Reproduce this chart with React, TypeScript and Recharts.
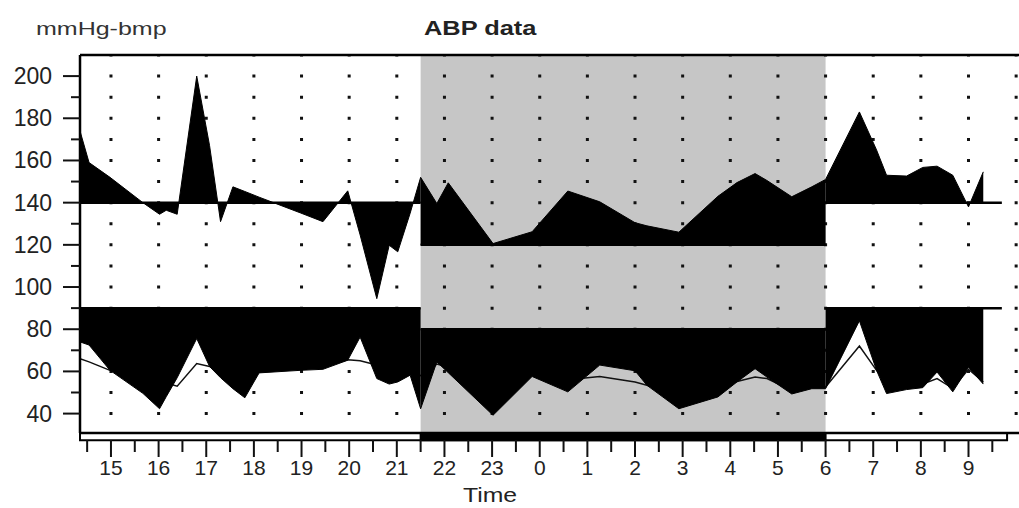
import { ComposedChart, Area, Line, XAxis, YAxis, CartesianGrid, ReferenceArea, ReferenceLine } from 'recharts';

// time of each reading in hours (24+ = next morning)
const times = [
  14.35, 14.54, 14.98, 15.67, 16.02, 16.16, 16.39, 16.8, 17.07, 17.3, 17.56, 17.81, 18.11, 18.97, 19.45,
  19.97, 20.23, 20.58, 20.84, 21.02, 21.28, 21.5,
  21.84, 22.08, 23.02, 23.84, 24.59, 25.26, 26.0, 26.25, 26.92, 27.74, 28.14, 28.52, 28.77, 29.29, 29.71, 30.0,
  30.71, 31.07, 31.28, 31.7, 32.04, 32.34, 32.67, 33.0, 33.31,
];
const systolic = [
  174, 159, 152, 140, 134.5, 136.4, 134.5, 200, 167, 131, 147.5, 145.3, 142.6, 135.2, 131,
  145.6, 124.7, 94.5, 119.8, 116.7, 135, 152,
  139.6, 149.4, 120.6, 126.2, 145.5, 140.4, 130.5, 129, 126, 143, 149.5, 153.8, 150.5, 142.8, 147.5, 151,
  183, 165, 153, 152.6, 156.7, 157.3, 153, 138, 154.6,
];
const diastolic = [
  74, 72.5, 60.5, 49.6, 42.3, 48, 57, 75.6, 62.3, 57, 51.8, 47.5, 59.3, 60.5, 61,
  65.3, 76.3, 56.6, 54, 55, 58.2, 42.3,
  64.5, 59.4, 39.2, 57.6, 50.3, 63, 60.3, 53.4, 42.3, 47.9, 55, 61.3, 57.3, 49.3, 51.8, 51.8,
  84, 60.5, 49.5, 51.4, 52.3, 59.7, 50.3, 62, 54,
];
const heartRate = [
  66, 64.5, 60.5, 57, 55.5, 54.5, 53, 63.7, 62.3, 61, 60, 60.5, 61, 62, 62.5,
  65.5, 65, 63, 60, 59, 60, 58,
  63.5, 62, 57.5, 58.5, 56, 57.6, 55, 53.4, 50, 52, 55.2, 57.3, 56.6, 51, 52.5, 52.6,
  72, 60.5, 55, 53, 54, 56.6, 52, 61, 55,
];

const gridHours = [15, 16, 17, 18, 19, 20, 21, 22, 23, 24, 25, 26, 27, 28, 29, 30, 31, 32, 33, 34];
const xTicks = [
  14.5, 15, 15.5, 16, 16.5, 17, 17.5, 18, 18.5, 19, 19.5, 20, 20.5, 21, 21.5, 22, 22.5, 23, 23.5, 24, 24.5,
  25, 25.5, 26, 26.5, 27, 27.5, 28, 28.5, 29, 29.5, 30, 30.5, 31, 31.5, 32, 32.5, 33, 33.5,
];
const yTicks = [40, 50, 60, 70, 80, 90, 100, 110, 120, 130, 140, 150, 160, 170, 180, 190, 200];

const SYS_DAY = 140;
const SYS_NIGHT = 120;
const DIA_DAY = 90;
const DIA_NIGHT = 80;
const NIGHT_START = 21.5;
const NIGHT_END = 30;
const X_MIN = 14.35;
const X_MAX = 34.06;
const Y_MIN = 30.8;
const Y_MAX = 210;
const LIMIT_END = 33.7;
const BAR_END = 33.81;
const BAR_LOW = 27.34;

const W = 1019;
const H = 508;
const TOP = 55;
const X_AXIS_H = 75;
const PLOT_H = H - TOP - X_AXIS_H;
const DOT_STEP = (10 * PLOT_H) / (Y_MAX - Y_MIN);
const FONT = '"Liberation Sans", Arial, Helvetica, sans-serif';

const rows = times.map((t, i) => ({ t, sys: systolic[i], dia: diastolic[i], hr: heartRate[i] }));

const inDay1 = (t: number) => t <= NIGHT_START;
const inNight = (t: number) => t >= NIGHT_START && t <= NIGHT_END;
const inDay2 = (t: number) => t >= NIGHT_END;

function YTick({ x, y, payload }: any) {
  const v = payload.value;
  const major = v % 20 === 0;
  return (
    <g>
      <line x1={x - (major ? 17 : 9)} x2={x} y1={y} y2={y} stroke="#111" strokeWidth={2} />
      {major && (
        <text x={x - 28} y={y + 8} textAnchor="end" fontSize={23} fill="#222" fontFamily={FONT}>
          {v}
        </text>
      )}
    </g>
  );
}

function XTick({ x, y, payload }: any) {
  const v = payload.value;
  const major = Number.isInteger(v);
  return (
    <g>
      <line x1={x} x2={x} y1={y + 7} y2={y + (major ? 24 : 19)} stroke="#111" strokeWidth={2} />
      {major && (
        <text x={x} y={y + 42} textAnchor="middle" fontSize={21} fill="#222" fontFamily={FONT}>
          {v % 24}
        </text>
      )}
    </g>
  );
}

const fillProps = {
  type: 'linear' as const,
  stroke: '#000',
  strokeWidth: 1,
  fill: '#000',
  fillOpacity: 1,
  dot: false,
  activeDot: false,
  isAnimationActive: false,
  zIndex: 100,
};

const limitProps = { stroke: '#000', strokeWidth: 2.5, zIndex: 450 };

export default function App() {
  return (
    <div style={{ position: 'absolute', left: 0, top: 0, width: W, height: H, background: '#fff' }}>
      <ComposedChart width={W} height={H} data={rows} margin={{ top: TOP, right: 0, bottom: 0, left: 0 }}>
        <ReferenceArea x1={NIGHT_START} x2={NIGHT_END} y1={Y_MIN} y2={Y_MAX} fill="#c6c6c6" fillOpacity={1} stroke="none" zIndex={-200} />
        <CartesianGrid
          horizontal={false}
          verticalValues={gridHours}
          stroke="#111"
          strokeWidth={3}
          strokeDasharray={`1.5 ${DOT_STEP - 3} 1.5 0`}
          zIndex={-100}
        />
        <XAxis
          dataKey="t"
          type="number"
          domain={[X_MIN, X_MAX]}
          allowDataOverflow
          ticks={xTicks}
          interval={0}
          height={X_AXIS_H}
          tickSize={0}
          tickMargin={0}
          tickLine={false}
          tick={<XTick />}
          axisLine={{ stroke: '#000', strokeWidth: 2.5 }}
        />
        <YAxis
          type="number"
          domain={[Y_MIN, Y_MAX]}
          allowDataOverflow
          ticks={yTicks}
          interval={0}
          width={80}
          tickSize={0}
          tickMargin={0}
          tickLine={false}
          tick={<YTick />}
          axisLine={{ stroke: '#000', strokeWidth: 2.5 }}
        />

        {/* heart rate sits under the black bands, so it only shows outside them */}
        <Line
          type="linear"
          dataKey="hr"
          stroke="#111"
          strokeWidth={1.5}
          dot={false}
          activeDot={false}
          isAnimationActive={false}
          zIndex={50}
        />

        <Area {...fillProps} name="sys-day1" dataKey={(d: any) => (inDay1(d.t) ? [SYS_DAY, d.sys] : null)} />
        <Area {...fillProps} name="sys-night" dataKey={(d: any) => (inNight(d.t) ? [SYS_NIGHT, d.sys] : null)} />
        <Area {...fillProps} name="sys-day2" dataKey={(d: any) => (inDay2(d.t) ? [SYS_DAY, d.sys] : null)} />
        <Area {...fillProps} name="dia-day1" dataKey={(d: any) => (inDay1(d.t) ? [DIA_DAY, d.dia] : null)} />
        <Area {...fillProps} name="dia-night" dataKey={(d: any) => (inNight(d.t) ? [DIA_NIGHT, d.dia] : null)} />
        <Area {...fillProps} name="dia-day2" dataKey={(d: any) => (inDay2(d.t) ? [DIA_DAY, d.dia] : null)} />

        <ReferenceLine {...limitProps} segment={[{ x: X_MIN, y: SYS_DAY }, { x: NIGHT_START, y: SYS_DAY }]} />
        <ReferenceLine {...limitProps} segment={[{ x: NIGHT_START, y: SYS_NIGHT }, { x: NIGHT_END, y: SYS_NIGHT }]} />
        <ReferenceLine {...limitProps} segment={[{ x: NIGHT_END, y: SYS_DAY }, { x: LIMIT_END, y: SYS_DAY }]} />
        <ReferenceLine {...limitProps} segment={[{ x: X_MIN, y: DIA_DAY }, { x: NIGHT_START, y: DIA_DAY }]} />
        <ReferenceLine {...limitProps} segment={[{ x: NIGHT_START, y: DIA_NIGHT }, { x: NIGHT_END, y: DIA_NIGHT }]} />
        <ReferenceLine {...limitProps} segment={[{ x: NIGHT_END, y: DIA_DAY }, { x: LIMIT_END, y: DIA_DAY }]} />
        <ReferenceLine y={Y_MAX} stroke="#000" strokeWidth={2.5} zIndex={450} />

        <ReferenceArea x1={X_MIN} x2={BAR_END} y1={BAR_LOW} y2={Y_MIN} ifOverflow="visible" fill="#fff" fillOpacity={1} stroke="#000" strokeWidth={2} zIndex={460} />
        <ReferenceArea x1={NIGHT_START} x2={NIGHT_END} y1={BAR_LOW} y2={Y_MIN} ifOverflow="visible" fill="#000" fillOpacity={1} stroke="#000" strokeWidth={2} zIndex={470} />
      </ComposedChart>
      <svg width={W} height={H} style={{ position: 'absolute', left: 0, top: 0, pointerEvents: 'none' }}>
        <text transform="translate(36,35) scale(1.39,1)" fontSize={18} fill="#333" fontFamily={FONT}>
          mmHg-bmp
        </text>
        <text transform="translate(424,35) scale(1.27,1)" fontSize={20} fontWeight="bold" fill="#222" fontFamily={FONT}>
          ABP data
        </text>
        <text transform="translate(490,502) scale(1.18,1)" textAnchor="middle" fontSize={21} fill="#222" fontFamily={FONT}>
          Time
        </text>
      </svg>
    </div>
  );
}
